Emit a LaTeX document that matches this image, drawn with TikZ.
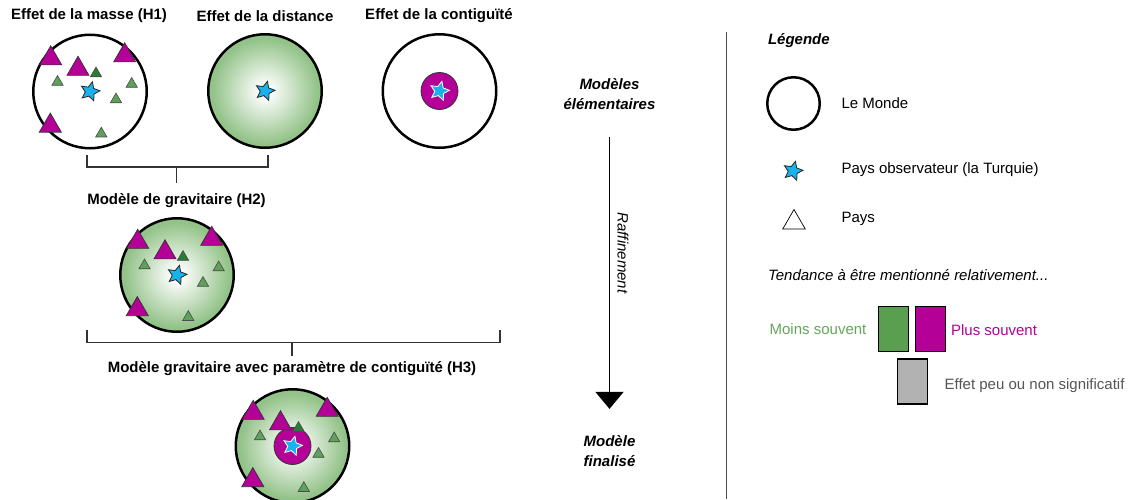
\documentclass[tikz,border=0pt]{standalone}
\usepackage{fontspec}
\setmainfont{Liberation Sans}
\usetikzlibrary{positioning,arrows.meta,calc,shapes.geometric}
\definecolor{MondeVert}{RGB}{148,195,138}
\definecolor{PaysMagenta}{RGB}{180,0,150}
\definecolor{PaysVert}{RGB}{95,160,90}
\definecolor{PaysVertFonce}{RGB}{40,125,55}
\definecolor{TurquieBleu}{RGB}{25,178,235}
\definecolor{BoxVert}{RGB}{90,158,80}
\definecolor{BoxGris}{RGB}{178,178,178}
\definecolor{TexteVert}{RGB}{100,165,90}
\definecolor{TexteGris}{RGB}{85,85,85}
\pgfdeclareradialshading{mondeshade}{\pgfpoint{0bp}{0bp}}{color(0bp)=(white); color(2bp)=(white); color(23bp)=(MondeVert); color(50bp)=(MondeVert)}

\begin{document}
\begin{tikzpicture}[x=1pt, y=-1pt, font=\fontsize{15}{18}\selectfont, every node/.style={align=center}]
\tikzset{
  titre/.style={font=\fontsize{15}{18}\selectfont\bfseries},
  etape/.style={font=\fontsize{15}{20}\selectfont\bfseries\itshape},
  monde/.style={circle, draw, line width=2.5pt, minimum size=113.5pt, inner sep=0pt},
  mondevert/.style={monde, shade, shading=mondeshade},
  voisin/.style={circle, draw=black!80, line width=0.8pt, fill=PaysMagenta, minimum size=37pt, inner sep=0pt},
  turquie/.style={star, star points=5, star point ratio=2.1, draw=black!85, line width=0.8pt, fill=TurquieBleu, minimum size=20pt, inner sep=0pt, rotate=-14},
  grandpays/.style={regular polygon, regular polygon sides=3, draw=black!80, line width=0.7pt, fill=PaysMagenta, minimum size=25.5pt, inner sep=0pt, yshift=-3pt},
  petitpays/.style={regular polygon, regular polygon sides=3, draw=black!70, line width=0.6pt, fill=PaysVert, minimum size=13pt, inner sep=0pt, yshift=-1.5pt},
  accolade/.style={draw=black!80, line width=1.3pt},
  fleche/.style={-{Triangle[width=28pt,length=17pt]}, line width=1.3pt},
  boite/.style={draw, line width=1.2pt, minimum width=30pt, minimum height=45pt, inner sep=0pt},
  legtexte/.style={anchor=west}
}
\useasboundingbox (0,0) rectangle (1140,499);

% modeles elementaires
\node[titre] (t-masse) at (89,16) {Effet de la masse (H1)};
\node[titre] (t-distance) at (265,16) {Effet de la distance};
\node[titre] (t-contig) at (439,16) {Effet de la contiguïté};
\node[monde, fill=white] (masse) at (90,91.5) {};
\node[mondevert] (distance) at (265,91) {};
\node[monde, fill=white] (contig) at (439.5,91) {};
\node[voisin] (contig-v) at (contig) {};

% modeles combines
\node[titre] (t-gravite) at (176.5,201) {Modèle de gravitaire (H2)};
\node[mondevert] (gravite) at (177,275) {};
\node[titre] (t-gravcontig) at (292,369) {Modèle gravitaire avec paramètre de contiguïté (H3)};
\node[mondevert] (gravcontig) at (292.5,446) {};
\node[voisin] (gravcontig-v) at (gravcontig) {};

% pays
\foreach \g in {masse, gravite, gravcontig} {
  \foreach \dx/\dy [count=\k] in {-39.3/-36, -12/-25.5, 34.7/-39, -39.7/31.3}
    \node[grandpays] (\g-g\k) at ($(\g)+(\dx,\dy)$) {};
  \foreach \dx/\dy/\c [count=\k] in {6/-19.5/PaysVertFonce, -32.5/-11/PaysVert, 41.7/-9/PaysVert, 26/6.5/PaysVert, 11.3/40.7/PaysVert}
    \node[petitpays, fill=\c] (\g-p\k) at ($(\g)+(\dx,\dy)$) {};
}

% pays observateur
\node[turquie] (masse-t) at (masse) {};
\node[turquie] (distance-t) at (distance) {};
\node[turquie, draw=white] (contig-t) at (contig) {};
\node[turquie] (gravite-t) at (gravite) {};
\node[turquie, draw=white] (gravcontig-t) at (gravcontig) {};

% accolades
\draw[accolade] ([xshift=-3pt,yshift=-5.5pt]masse.south) -- ++(0,12) coordinate (acc1) -| ([xshift=3pt,yshift=-5.5pt]distance.south);
\draw[accolade] (acc1 -| t-gravite) -- ++(0,16);
\draw[accolade] ([xshift=-90pt,yshift=3pt]gravite.south) -- ++(0,12.5) coordinate (acc2) -| ([xshift=323pt,yshift=3pt]gravite.south);
\draw[accolade] (acc2 -| t-gravcontig) -- ++(0,13.5);

% raffinement
\node[etape] (elem) at (609.5,94) {Modèles\\élémentaires};
\node[etape] (finalise) at (609.5,451) {Modèle\\finalisé};
\draw[fleche, shorten <=24pt, shorten >=23pt] (elem.south) -- (finalise.north);
\node[font=\fontsize{15}{18}\selectfont\itshape, rotate=-90] (raffin) at (623,253) {Raffinement};

\draw[black!70, line width=1pt] (726,32) -- (726,499);

% legende
\node[etape, anchor=west] (legende) at (764.5,41) {Légende};
\node[monde, minimum size=52.5pt] (leg-monde) at (793.5,103.5) {};
\node[legtexte] (leg-monde-t) at (838,103) {Le Monde};
\node[turquie] (leg-turquie) at (793,171) {};
\node[legtexte] (leg-turquie-t) at (838,170) {Pays observateur (la Turquie)};
\node[grandpays, fill=white, draw=black, minimum size=26pt] (leg-pays) at (794,219.5) {};
\node[legtexte] (leg-pays-t) at (838,219) {Pays};
\node[legtexte, font=\fontsize{15}{18}\selectfont\itshape] (tendance) at (764.5,275) {Tendance à être mentionné relativement...};
\node[boite, fill=BoxVert] (b-moins) at (893.5,329) {};
\node[boite, fill=PaysMagenta] (b-plus) at (930.5,329) {};
\node[boite, fill=BoxGris] (b-gris) at (912.5,381.5) {};
\node[text=TexteVert, left=8pt of b-moins] (moins) {Moins souvent};
\node[text=PaysMagenta, right=1.5pt of b-plus, yshift=-1pt] (plus) {Plus souvent};
\node[text=TexteGris, right=13pt of b-gris, yshift=-4.5pt] (nonsig) {Effet peu ou non significatif};
\end{tikzpicture}
\end{document}
